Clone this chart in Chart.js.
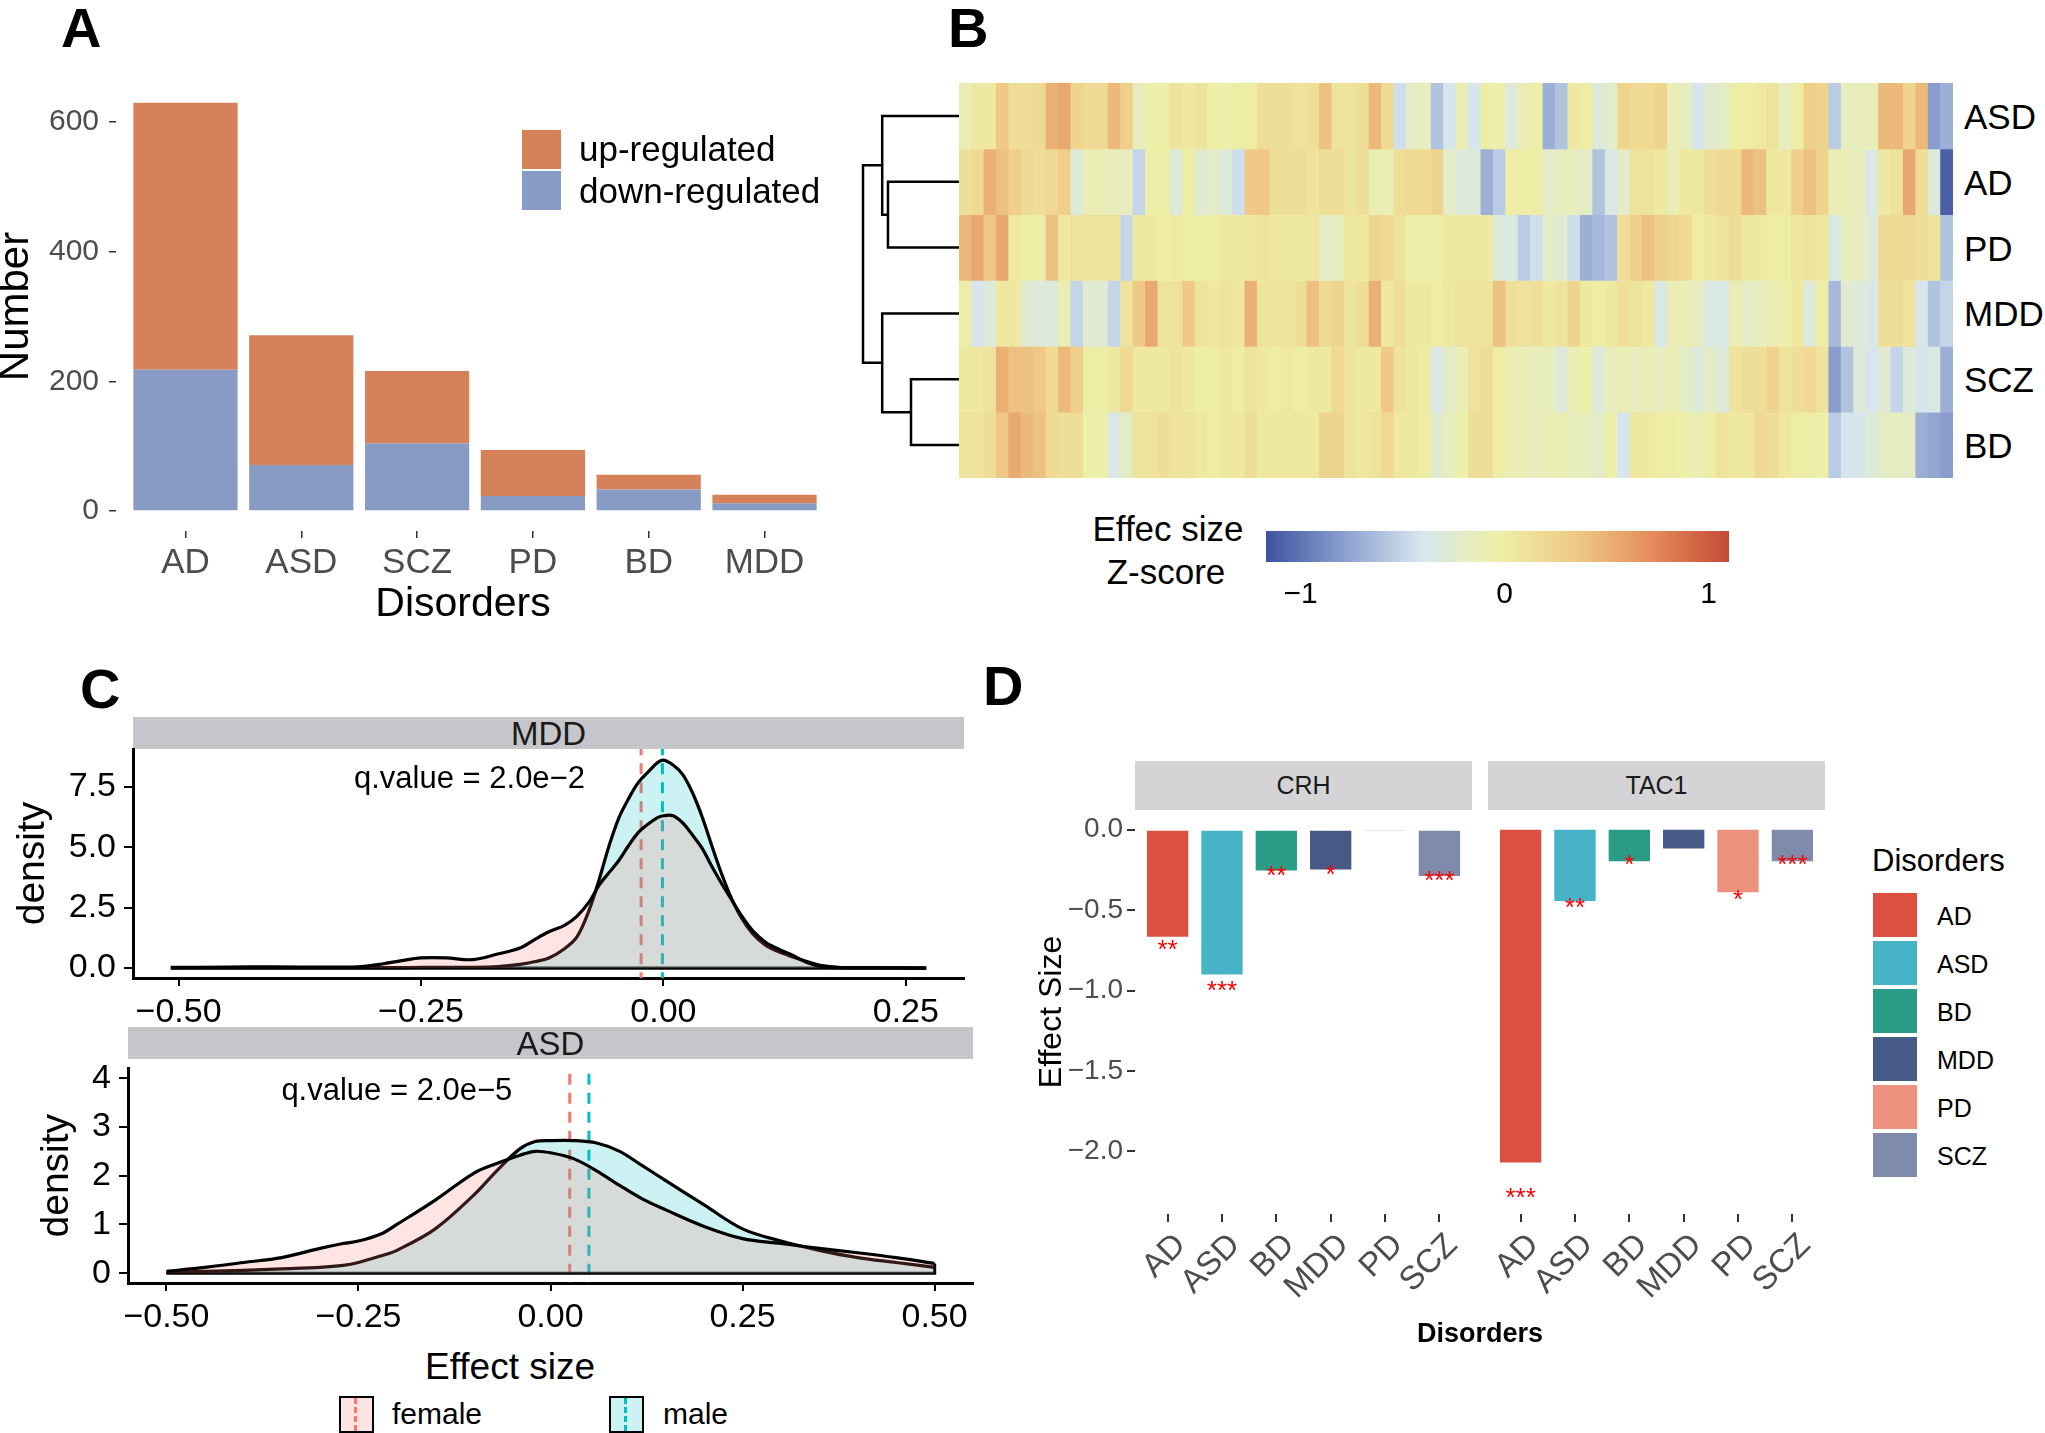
<!DOCTYPE html>
<html>
<head>
<meta charset="utf-8">
<script src="https://cdn.jsdelivr.net/npm/chart.js@4.4.1/dist/chart.umd.min.js"></script>
<style>
  body { margin: 0; background: #fff; width: 2045px; height: 1433px; position: relative; overflow: hidden;
         font-family: 'Liberation Sans', Arial, Helvetica, sans-serif; color: #000; }
  canvas { position: absolute; }
  .txt { position: absolute; line-height: 1; white-space: nowrap; }
  .letter { position: absolute; font-weight: bold; font-size: 56px; line-height: 1; }
  .strip { position: absolute; display: flex; align-items: center; justify-content: center; line-height: 1; }
  .key { position: absolute; box-sizing: border-box; }
</style>
</head>
<body>
<div class="letter" style="left:61px;top:0px">A</div>
<div class="letter" style="left:948px;top:0px">B</div>
<div class="letter" style="left:80px;top:661px">C</div>
<div class="letter" style="left:983px;top:658px">D</div>

<script>
// ---------- DATA ----------
// A: number of DE genes
const catsA = ['AD', 'ASD', 'SCZ', 'PD', 'BD', 'MDD'];
const upA = [412, 200, 112, 71, 23, 13];
const downA = [218, 71, 104, 23, 33, 12];
const yTicksA = [0, 200, 400, 600];

// B: heatmap (rows top to bottom), 80 binned columns of effect size z-score
const hmRows = ['ASD', 'AD', 'PD', 'MDD', 'SCZ', 'BD'];
const hmASD = [-0.1,0.05,0.05,0.35,0.15,0.15,0.2,0.5,0.55,0.25,0.2,0.2,0.45,0.3,-0.15,-0.05,0,0.1,0.05,0.1,
  0,-0.05,0,0,0.15,0.15,0.15,0.1,0.15,0.4,0.1,0.1,0.15,0.45,0.2,-0.45,-0.2,-0.15,-0.6,-0.4,
  -0.1,-0.4,0,-0.05,-0.3,-0.1,0,-0.7,-0.6,0.05,0,-0.3,-0.2,0.25,0.2,0.2,0.25,-0.1,-0.15,-0.4,
  -0.25,-0.2,0,0,0.05,0.1,-0.15,0,0.3,0.25,-0.55,-0.15,-0.15,-0.1,0.45,0.45,0.25,0.45,-0.8,-0.7];
const hmAD = [0.15,0.2,0.5,0.4,0.3,0.2,0.15,0.2,0.3,-0.3,-0.1,-0.1,-0.15,-0.15,-0.5,-0.05,0,-0.3,0,-0.25,
  -0.2,-0.3,-0.45,0.35,0.35,0.15,0.15,0.15,0.1,0.15,0.15,0.1,0.15,-0.1,-0.1,0.15,0.2,0.2,0.25,-0.2,
  -0.3,-0.3,-0.7,-0.55,0,0,0,-0.2,-0.15,-0.15,-0.2,-0.6,-0.35,-0.2,0.1,0.1,0.05,-0.1,0.05,0.05,
  0.15,0.2,0.2,0.45,0.4,0.05,0.05,0.3,0.4,0.25,-0.1,-0.1,-0.15,-0.35,0.05,0.1,0.55,0.15,-0.3,-1.1];
const hmPD = [0.45,0.55,0.35,0.55,0.05,0,0,0.4,0.05,0.1,0.1,0.1,0.1,-0.5,0.05,0.05,0,0.05,0,0,
  0,0.05,0.05,0.05,0.1,0.05,0.05,0.05,0.05,-0.2,-0.15,0.05,0.05,0.25,0.2,0.1,-0.05,-0.05,0,0.05,
  0.05,0.05,0.05,-0.3,-0.35,-0.55,-0.45,-0.2,-0.25,-0.45,-0.7,-0.65,-0.6,0.15,0.3,0.4,0.3,0.25,0.2,0,
  0.05,0.1,0.15,0.05,0.05,0,0,0.05,0.1,0.05,-0.35,-0.15,-0.15,-0.3,0.2,0.2,0.2,0.15,0.1,-0.6];
const hmMDD = [0,-0.4,-0.3,0.05,0.05,-0.25,-0.3,-0.3,-0.1,-0.5,-0.25,-0.25,-0.5,0.1,0.35,0.55,0.1,0.1,0.35,0.1,
  0.05,0.1,0.05,0.5,0.1,0.1,0.1,0.15,0.4,0.2,0.25,0.1,0.15,0.5,0.05,0.15,0.05,0.05,0,0.05,
  0.1,0.1,0.1,0.4,0.15,0.1,0.15,0.05,0.1,0.25,0.05,0,0.05,0.15,0.1,0.05,-0.35,-0.1,-0.1,-0.15,
  -0.35,-0.35,-0.1,-0.2,-0.15,-0.1,-0.05,0.05,-0.3,0,-0.65,-0.25,-0.3,-0.35,0.15,0.15,0.1,-0.4,-0.6,-0.5];
const hmSCZ = [0.05,0.05,0.1,0.5,0.4,0.4,0.35,0.2,0.45,0.3,0,0,0.05,0.2,0.05,0.05,0.05,0.1,0.05,0,
  0,0.05,0,0.1,0.05,0,0.05,0,0.05,0.05,0.2,0.1,0.05,0.05,0.35,0.1,0.05,0,-0.35,-0.2,
  -0.1,0.1,0.15,0,-0.1,-0.1,-0.15,-0.15,-0.3,-0.1,-0.05,-0.3,-0.15,-0.1,-0.15,-0.1,-0.15,-0.1,-0.2,-0.3,
  -0.2,-0.3,0.1,0.15,0.15,0.25,0.1,0.15,0.2,0.1,-0.8,-0.6,-0.3,-0.4,-0.25,-0.5,-0.3,-0.4,-0.35,-0.7];
const hmBD = [0.1,0.1,0.15,0.35,0.55,0.45,0.4,0.2,0.15,0.15,-0.05,-0.05,-0.35,-0.2,0.1,0.1,0.15,0.1,0.1,0.05,
  0,0.05,0.05,0.15,0.05,0.05,0.05,0.05,0.05,0.25,0.25,0.1,0.05,0.1,0.2,0.05,0.05,0,-0.25,-0.15,
  -0.05,0.15,0.15,0,-0.1,-0.1,-0.15,-0.1,-0.1,-0.15,-0.15,-0.2,-0.05,-0.4,0.05,0.05,0,0,-0.05,-0.1,
  0,0.1,0.05,0.05,0.2,0.15,0.05,0,0,-0.05,-0.55,-0.4,-0.4,-0.3,-0.2,-0.15,-0.2,-0.7,-0.75,-0.8];
const hmValues = [hmASD, hmAD, hmPD, hmMDD, hmSCZ, hmBD];

// dendrogram, hclust style merges (negative = leaf index in hmRows, positive = earlier merge)
const mergeA = [-5, -2, -1, -4, 3];
const mergeB = [-6, -3, 2, 1, 4];
const mergeH = [0.5, 0.74, 0.8, 0.8, 1.0];

// colour key
const cbStops = [-1.17, -0.79, -0.41, -0.035, 0.34, 0.72, 1.1];
const cbColors = ['#3D52A0', '#8A9FCF', '#D6E6EE', '#EEF0A8', '#EFCB86', '#E58C5C', '#C64A34'];
const cbTicks = [-1, 0, 1];

// C: density of effect size by sex
const mddX = [-0.508,-0.45,-0.4,-0.35,-0.316,-0.29,-0.27,-0.25,-0.224,-0.197,-0.171,-0.148,-0.132,-0.118,-0.102,-0.089,
  -0.076,-0.066,-0.056,-0.046,-0.036,-0.026,-0.016,-0.006,0,0.01,0.02,0.03,0.04,0.05,0.06,0.07,0.08,0.092,0.105,
  0.118,0.132,0.148,0.164,0.184,0.22,0.271];
const mddFemale = [0.03,0.04,0.05,0.04,0.05,0.17,0.31,0.42,0.42,0.35,0.58,0.83,1.2,1.5,1.77,2.15,
  2.77,3.45,3.95,4.45,5.06,5.6,5.95,6.22,6.3,6.3,6.0,5.5,4.95,4.2,3.5,2.85,2.2,1.55,1.08,
  0.8,0.55,0.23,0.06,0.02,0.02,0.0];
const mddMale = [0.01,0.02,0.02,0.02,0.02,0.02,0.02,0.03,0.03,0.03,0.06,0.15,0.27,0.42,0.8,1.3,
  2.46,3.7,5.06,6.2,7.0,7.67,8.1,8.5,8.6,8.4,8.0,7.25,6.25,5.05,3.9,2.9,2.1,1.42,0.96,
  0.69,0.48,0.27,0.1,0.02,0.01,0.0];
const mddMeans = [-0.023, -0.001]; // female, male
const mddQ = 'q.value = 2.0e\u22122';

const asdX = [-0.5,-0.45,-0.4,-0.35,-0.3,-0.27,-0.25,-0.22,-0.2,-0.15,-0.1,-0.07,-0.04,-0.02,0,0.03,0.06,0.09,
  0.12,0.15,0.2,0.25,0.3,0.35,0.4,0.45,0.5];
const asdFemale = [0.04,0.12,0.22,0.32,0.51,0.61,0.66,0.81,1.0,1.5,2.05,2.25,2.42,2.5,2.47,2.35,2.1,1.8,
  1.52,1.3,0.96,0.71,0.61,0.51,0.42,0.32,0.2];
const asdMale = [0.02,0.04,0.06,0.09,0.12,0.16,0.22,0.36,0.47,0.91,1.6,2.1,2.55,2.7,2.72,2.72,2.67,2.5,
  2.2,1.9,1.4,0.91,0.66,0.47,0.32,0.22,0.12];
const asdMeans = [0.025, 0.05];
const asdQ = 'q.value = 2.0e\u22125';

// D: effect size of two genes
const catsD = ['AD', 'ASD', 'BD', 'MDD', 'PD', 'SCZ'];
const colorsD = ['#DC5042', '#46B3C7', '#2A9B87', '#465A88', '#EC917E', '#7F8BAA'];
const crhEffect = [-0.665, -0.90, -0.253, -0.247, -0.005, -0.288];
const tac1Effect = [-2.07, -0.443, -0.196, -0.117, -0.389, -0.196];
const crhStars = ['**', '***', '**', '*', '', '***'];
const tac1Stars = ['***', '**', '*', '', '*', '***'];
const crhStarY = [-0.703, -0.959, -0.244, -0.237, 0, -0.278];
const tac1StarY = [-2.247, -0.446, -0.174, 0, -0.396, -0.174];
const yTicksD = [0, -0.5, -1, -1.5, -2];

// ---------- HELPERS ----------
Chart.defaults.font.family = "'Liberation Sans', Arial, Helvetica, sans-serif";
Chart.defaults.color = '#000';
Chart.defaults.animation = false;
Chart.defaults.responsive = false;
Chart.defaults.devicePixelRatio = 1;
Chart.defaults.plugins.legend.display = false;
Chart.defaults.plugins.tooltip.enabled = false;

const MINUS = '\u2212';
const fmt = (v, d) => (v < 0 ? MINUS : '') + Math.abs(v).toFixed(d);

function makeCanvas(left, top, w, h) {
  const c = document.createElement('canvas');
  c.width = w; c.height = h;
  c.style.left = left + 'px'; c.style.top = top + 'px';
  document.body.appendChild(c);
  return c;
}

function text(str, x, y, size, opts = {}) {
  const d = document.createElement('div');
  d.className = 'txt';
  d.textContent = str;
  d.style.left = x + 'px';
  d.style.top = y + 'px';
  d.style.fontSize = size + 'px';
  if (opts.bold) d.style.fontWeight = 'bold';
  if (opts.color) d.style.color = opts.color;
  d.style.transform = opts.center ? 'translate(-50%,-50%)' : 'translate(0,-50%)';
  document.body.appendChild(d);
  return d;
}

function strip(str, left, top, w, h, bg, size) {
  const d = document.createElement('div');
  d.className = 'strip';
  Object.assign(d.style, { left: left + 'px', top: top + 'px', width: w + 'px', height: h + 'px',
    background: bg, fontSize: size + 'px', color: '#1A1A1A' });
  d.textContent = str;
  document.body.appendChild(d);
}

function tickMarks(color, len, w) {
  return { display: true, drawOnChartArea: false, drawTicks: true, tickLength: len, color: color, lineWidth: w, offset: false };
}

function hexRgb(h) { return [1, 3, 5].map(i => parseInt(h.slice(i, i + 2), 16)); }
function heatColor(v) {
  const n = cbStops.length;
  if (v <= cbStops[0]) return cbColors[0];
  if (v >= cbStops[n - 1]) return cbColors[n - 1];
  let k = 0;
  while (v > cbStops[k + 1]) k++;
  const t = (v - cbStops[k]) / (cbStops[k + 1] - cbStops[k]);
  const a = hexRgb(cbColors[k]), b = hexRgb(cbColors[k + 1]);
  const c = a.map((x, i) => Math.round(x + (b[i] - x) * t));
  return `rgb(${c[0]},${c[1]},${c[2]})`;
}

// text placed in data coordinates through the chart's scales
const textAnno = {
  id: 'textAnno',
  afterDatasetsDraw(chart, args, opts) {
    const { ctx, scales } = chart;
    ctx.save();
    (opts.items || []).forEach(it => {
      if (!it.text) return;
      ctx.font = it.font;
      ctx.fillStyle = it.color;
      ctx.textAlign = 'center';
      ctx.textBaseline = 'alphabetic';
      ctx.fillText(it.text, scales.x.getPixelForValue(it.x), scales.y.getPixelForValue(it.y) + it.dy);
    });
    ctx.restore();
  }
};

// ---------- A: stacked bars ----------
new Chart(makeCanvas(0, 0, 850, 640), {
  type: 'bar',
  data: {
    datasets: [
      { label: 'down-regulated', data: downA.map((v, i) => ({ x: i + 1, y: v })), backgroundColor: '#879BC5' },
      { label: 'up-regulated', data: upA.map((v, i) => ({ x: i + 1, y: v })), backgroundColor: '#D5815A' }
    ]
  },
  options: {
    layout: { padding: { top: 82, right: 16, left: 0, bottom: 0 } },
    datasets: { bar: { barPercentage: 0.9, categoryPercentage: 1 } },
    scales: {
      x: {
        type: 'linear', min: 0.4, max: 6.6, offset: false, stacked: true,
        afterBuildTicks: s => { s.ticks = catsA.map((c, i) => ({ value: i + 1 })); },
        afterFit: s => { s.height = 109; },
        ticks: { callback: v => catsA[v - 1], font: { size: 35 }, color: '#4D4D4D', padding: 4, maxRotation: 0, autoSkip: false },
        grid: tickMarks('#333', 7, 1.5),
        border: { display: false }
      },
      y: {
        min: -31, max: 662, stacked: true,
        afterBuildTicks: s => { s.ticks = yTicksA.map(v => ({ value: v })); },
        afterFit: s => { s.width = 116; },
        ticks: { font: { size: 30 }, color: '#4D4D4D', padding: 10 },
        grid: tickMarks('#333', 7, 1.5),
        border: { display: false },
        title: { display: true, text: 'Number', font: { size: 42, lineHeight: 0.8 }, color: '#000', padding: { top: 0 } }
      }
    }
  }
});
text('Disorders', 463, 602, 41, { center: true });
// legend A
[['up-regulated', '#D5815A', 130, 148], ['down-regulated', '#879BC5', 171, 190]].forEach(([t, col, top, cy]) => {
  const k = document.createElement('div');
  k.className = 'key';
  Object.assign(k.style, { left: '522px', top: top + 'px', width: '39px', height: '39px', background: col });
  document.body.appendChild(k);
  text(t, 579, cy, 35);
});

// ---------- B: heatmap ----------
const hmCols = hmASD.map((_, i) => i);
new Chart(makeCanvas(959, 83, 994, 395), {
  type: 'bar',
  data: {
    labels: hmCols,
    datasets: hmRows.map((name, r) => ({
      label: name,
      data: hmValues[r].map(() => [5 - r, 6 - r]),
      backgroundColor: hmValues[r].map(heatColor),
      grouped: false,
      borderWidth: 0
    }))
  },
  options: {
    layout: { padding: 0 },
    datasets: { bar: { barPercentage: 1, categoryPercentage: 1 } },
    scales: {
      x: { display: false, offset: true },
      y: { display: false, min: 0, max: 6 }
    }
  }
});
hmRows.forEach((name, r) => text(name, 1964, 83 + 65.8 * (r + 0.5), 35));

// dendrogram
const leafY = hmRows.map((_, i) => i + 0.5);
const nodes = [];
const nodeOf = ref => (ref < 0 ? { h: 0, y: leafY[-ref - 1] } : nodes[ref - 1]);
const dendroSets = mergeH.map((h, k) => {
  const a = nodeOf(mergeA[k]), b = nodeOf(mergeB[k]);
  nodes[k] = { h: h, y: (a.y + b.y) / 2 };
  return {
    data: [{ x: a.h, y: a.y }, { x: h, y: a.y }, { x: h, y: b.y }, { x: b.h, y: b.y }],
    borderColor: '#000', borderWidth: 2.5, pointRadius: 0, showLine: true, tension: 0, clip: false
  };
});
new Chart(makeCanvas(855, 83, 106, 395), {
  type: 'scatter',
  data: { datasets: dendroSets },
  options: {
    layout: { padding: { left: 8, right: 2, top: 0, bottom: 0 } },
    scales: {
      x: { type: 'linear', min: 0, max: 1, reverse: true, display: false },
      y: { type: 'linear', min: 0, max: 6, reverse: true, display: false }
    }
  }
});

// colour key
new Chart(makeCanvas(1266, 531, 466, 90), {
  type: 'bar',
  data: {
    labels: ['key'],
    datasets: [{
      data: [[cbStops[0], cbStops[cbStops.length - 1]]],
      borderWidth: 0,
      backgroundColor: ctx => {
        const chart = ctx.chart;
        if (!chart.chartArea) return cbColors[3];
        const xs = chart.scales.x;
        const g = chart.ctx.createLinearGradient(xs.getPixelForValue(cbStops[0]), 0,
          xs.getPixelForValue(cbStops[cbStops.length - 1]), 0);
        const span = cbStops[cbStops.length - 1] - cbStops[0];
        cbStops.forEach((s, i) => g.addColorStop((s - cbStops[0]) / span, cbColors[i]));
        return g;
      }
    }]
  },
  options: {
    indexAxis: 'y',
    layout: { padding: 0 },
    datasets: { bar: { barPercentage: 1, categoryPercentage: 1 } },
    scales: {
      x: {
        type: 'linear', min: cbStops[0], max: cbStops[cbStops.length - 1],
        afterBuildTicks: s => { s.ticks = cbTicks.map(v => ({ value: v })); },
        afterFit: s => { s.height = 59; },
        ticks: { callback: v => fmt(v, 0), font: { size: 30 }, color: '#000', padding: 15 },
        grid: { display: false, drawTicks: false },
        border: { display: false }
      },
      y: { display: false }
    }
  }
});
text('Effec size', 1168, 528, 35, { center: true });
text('Z-score', 1166, 571, 35, { center: true });

// ---------- C: density plots ----------
function densityChart(left, top, w, h, cfg) {
  const femalePts = cfg.x.map((x, i) => ({ x: x, y: cfg.female[i] }));
  const malePts = cfg.x.map((x, i) => ({ x: x, y: cfg.male[i] }));
  const vline = (v, col) => ({
    data: [{ x: v, y: cfg.ymin - 1 }, { x: v, y: cfg.ymax + 1 }],
    borderColor: col, borderWidth: 3, borderDash: [11, 8], pointRadius: 0, showLine: true, fill: false
  });
  new Chart(makeCanvas(left, top, w, h), {
    type: 'scatter',
    data: {
      datasets: [
        { data: femalePts, showLine: true, fill: 'origin', backgroundColor: 'rgba(248,118,109,0.2)',
          borderColor: '#000', borderWidth: 3.2, pointRadius: 0, tension: 0.35 },
        { data: malePts, showLine: true, fill: 'origin', backgroundColor: 'rgba(0,191,196,0.2)',
          borderColor: '#000', borderWidth: 3.2, pointRadius: 0, tension: 0.35 },
        { data: cfg.base, showLine: true, fill: false, borderColor: '#000', borderWidth: 3.2, pointRadius: 0, tension: 0 },
        vline(cfg.means[0], '#F8766D'),
        vline(cfg.means[1], '#00BFC4')
      ]
    },
    plugins: [textAnno],
    options: {
      layout: { padding: cfg.pad },
      plugins: { textAnno: { items: [{ text: cfg.q, x: -0.2, y: cfg.qy, dy: 11, font: '31px "Liberation Sans", Arial', color: '#000' }] } },
      scales: {
        x: {
          type: 'linear', min: cfg.xmin, max: cfg.xmax,
          afterBuildTicks: s => { s.ticks = cfg.xticks.map(v => ({ value: v })); },
          afterFit: s => { s.height = cfg.xh; },
          ticks: { callback: v => fmt(v, 2), font: { size: 34 }, color: '#000', padding: 6, maxRotation: 0 },
          grid: tickMarks('#000', 8, 2),
          border: { display: true, color: '#000', width: 3 }
        },
        y: {
          type: 'linear', min: cfg.ymin, max: cfg.ymax,
          afterBuildTicks: s => { s.ticks = cfg.yticks.map(v => ({ value: v })); },
          afterFit: s => { s.width = cfg.yw; },
          ticks: { callback: v => fmt(v, cfg.ydec), font: { size: 34 }, color: '#000', padding: 8 },
          grid: tickMarks('#000', 9, 2),
          border: { display: true, color: '#000', width: 3 },
          title: { display: true, text: 'density', font: { size: 39 }, color: '#000', padding: { top: cfg.titlePad } }
        }
      }
    }
  });
}

strip('MDD', 133, 717, 831, 32, '#C5C6CA', 33);
densityChart(0, 705, 1000, 330, {
  x: mddX, female: mddFemale, male: mddMale, means: mddMeans, q: mddQ, qy: 7.9,
  base: [{ x: -0.508, y: 0 }, { x: 0.271, y: 0 }],
  xmin: -0.547, xmax: 0.310, ymin: -0.41, ymax: 9.06,
  xticks: [-0.5, -0.25, 0, 0.25], yticks: [0, 2.5, 5, 7.5], ydec: 1,
  pad: { top: 44, right: 36, left: 0, bottom: 0 }, xh: 57, yw: 133, titlePad: 10
});

strip('ASD', 128, 1027, 845, 32, '#C5C6CA', 33);
densityChart(0, 1040, 1000, 300, {
  x: asdX, female: asdFemale, male: asdMale, means: asdMeans, q: asdQ, qy: 3.78,
  base: [{ x: -0.5, y: 0 }, { x: 0.5, y: 0 }, { x: 0.5, y: 0.2 }],
  xmin: -0.55, xmax: 0.55, ymin: -0.2, ymax: 4.2,
  xticks: [-0.5, -0.25, 0, 0.25, 0.5], yticks: [0, 1, 2, 3, 4], ydec: 0,
  pad: { top: 19, right: 27, left: 0, bottom: 0 }, xh: 57, yw: 128, titlePad: 34
});
text('Effect size', 510, 1366, 37, { center: true });
// legend C
[['female', 339, 392, '#FDE4E2', '#F8766D'], ['male', 609, 663, '#CCF2F3', '#00BFC4']].forEach(([t, kx, tx, bg, line]) => {
  const k = document.createElement('div');
  k.className = 'key';
  Object.assign(k.style, { left: kx + 'px', top: '1396px', width: '35px', height: '37px', background: bg, border: '2.5px solid #000' });
  const l = document.createElement('div');
  Object.assign(l.style, { position: 'absolute', left: '13px', top: '0', height: '100%', borderLeft: '3px dashed ' + line });
  k.appendChild(l);
  document.body.appendChild(k);
  text(t, tx, 1414, 30);
});

// ---------- D: faceted bars ----------
function effectChart(left, w, pad, values, stars, starY, showY) {
  new Chart(makeCanvas(left, 760, w, 560), {
    type: 'bar',
    data: {
      datasets: [{ data: values.map((v, i) => ({ x: i + 1, y: v })), backgroundColor: colorsD, borderWidth: 0 }]
    },
    plugins: [textAnno],
    options: {
      layout: { padding: pad },
      datasets: { bar: { barPercentage: 0.76, categoryPercentage: 1 } },
      plugins: {
        textAnno: { items: stars.map((s, i) => ({ text: s, x: i + 1, y: starY[i], dy: 15, font: '26px "Liberation Sans", Arial', color: '#FF0000' })) }
      },
      scales: {
        x: {
          type: 'linear', min: 0.4, max: 6.6, offset: false,
          afterBuildTicks: s => { s.ticks = catsD.map((c, i) => ({ value: i + 1 })); },
          afterFit: s => { s.height = 106; },
          ticks: { callback: v => catsD[v - 1], font: { size: 33 }, color: '#4D4D4D', padding: 4, labelOffset: 13,
                   minRotation: 45, maxRotation: 45, autoSkip: false },
          grid: tickMarks('#333', 8, 2),
          border: { display: false }
        },
        y: {
          display: showY, min: -2.39, max: 0.123,
          afterBuildTicks: s => { s.ticks = yTicksD.map(v => ({ value: v })); },
          afterFit: s => { s.width = showY ? 135 : 0; },
          ticks: { callback: v => fmt(v, 1), font: { size: 28 }, color: '#4D4D4D', padding: 4 },
          grid: tickMarks('#333', 8, 2),
          border: { display: false },
          title: { display: true, text: 'Effect Size', font: { size: 32 }, color: '#000', padding: { top: 33 } }
        }
      }
    }
  });
}
strip('CRH', 1135, 761, 337, 49, '#D4D4D6', 25);
strip('TAC1', 1488, 761, 337, 49, '#D4D4D6', 25);
effectChart(1000, 480, { top: 50, right: 8, left: 0, bottom: 0 }, crhEffect, crhStars, crhStarY, true);
effectChart(1480, 360, { top: 50, right: 15, left: 8, bottom: 0 }, tac1Effect, tac1Stars, tac1StarY, false);
text('Disorders', 1480, 1333, 27, { center: true, bold: true });
// legend D
text('Disorders', 1872, 860, 31);
catsD.forEach((c, i) => {
  const k = document.createElement('div');
  k.className = 'key';
  Object.assign(k.style, { left: '1873px', top: (893 + 48 * i) + 'px', width: '44px', height: '44px', background: colorsD[i] });
  document.body.appendChild(k);
  text(c, 1937, 916 + 48 * i, 25);
});
</script>
</body>
</html>
